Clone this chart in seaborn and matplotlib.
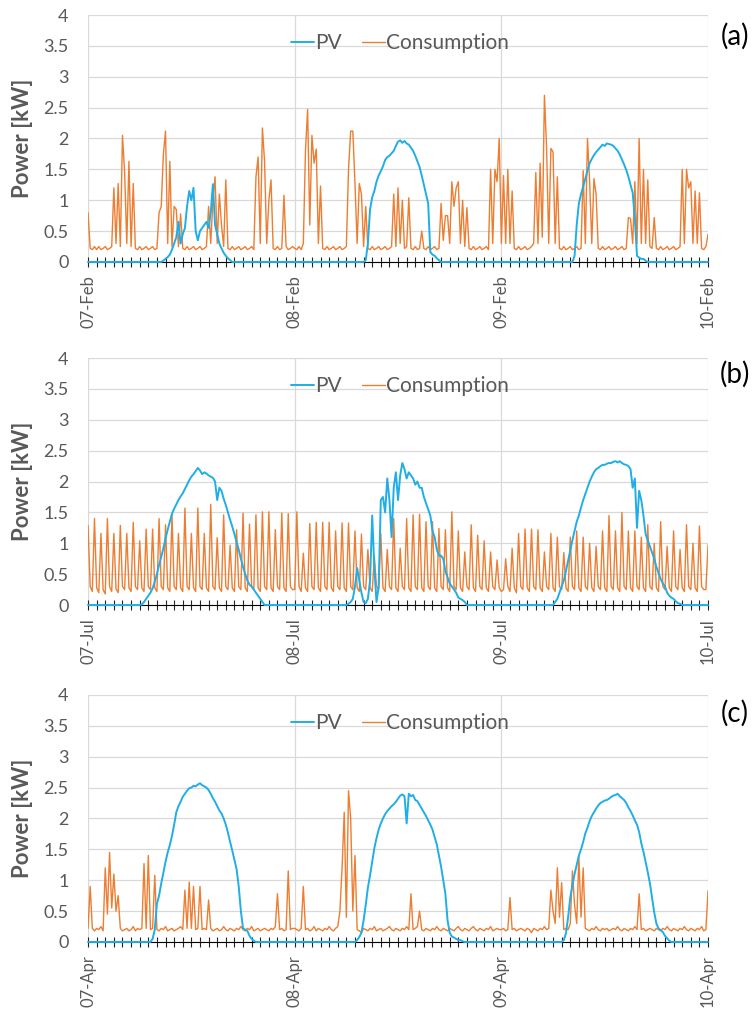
import numpy as np
import pandas as pd
import seaborn as sns
import matplotlib.pyplot as plt
from matplotlib.ticker import MultipleLocator

# 15-minute samples, 96 per day; the last day has one extra sample (midnight of day 4)

# ---------- (a) February ----------
pv_a_d1 = [0, 0, 0, 0, 0, 0, 0, 0, 0, 0, 0, 0, 0, 0, 0, 0, 0, 0, 0, 0, 0, 0, 0, 0,
           0, 0, 0, 0, 0, 0, 0, 0, 0, 0, 0, 0.02, 0.05, 0.08, 0.12, 0.2, 0.3, 0.4, 0.65, 0.3, 0.45, 0.55, 0.9, 1.15,
           1.0, 1.2, 0.5, 0.35, 0.5, 0.55, 0.6, 0.65, 0.55, 0.8, 1.26, 0.6, 0.45, 0.3, 0.22, 0.15, 0.1, 0.06, 0.03, 0, 0, 0, 0, 0,
           0, 0, 0, 0, 0, 0, 0, 0, 0, 0, 0, 0, 0, 0, 0, 0, 0, 0, 0, 0, 0, 0, 0, 0]
pv_a_d2 = [0, 0, 0, 0, 0, 0, 0, 0, 0, 0, 0, 0, 0, 0, 0, 0, 0, 0, 0, 0, 0, 0, 0, 0,
           0, 0, 0, 0, 0, 0, 0, 0, 0, 0.03, 0.3, 0.85, 1.05, 1.15, 1.3, 1.4, 1.47, 1.55, 1.65, 1.7, 1.72, 1.76, 1.8, 1.88,
           1.95, 1.97, 1.93, 1.96, 1.92, 1.9, 1.85, 1.8, 1.72, 1.63, 1.54, 1.4, 1.25, 1.1, 0.95, 0.16, 0.12, 0.1, 0.06, 0.03, 0, 0, 0, 0,
           0, 0, 0, 0, 0, 0, 0, 0, 0, 0, 0, 0, 0, 0, 0, 0, 0, 0, 0, 0, 0, 0, 0, 0]
pv_a_d3 = [0, 0, 0, 0, 0, 0, 0, 0, 0, 0, 0, 0, 0, 0, 0, 0, 0, 0, 0, 0, 0, 0, 0, 0,
           0, 0, 0, 0, 0, 0, 0, 0, 0, 0, 0.1, 0.6, 0.95, 1.1, 1.22, 1.35, 1.48, 1.6, 1.67, 1.73, 1.78, 1.82, 1.86, 1.9,
           1.88, 1.92, 1.91, 1.9, 1.88, 1.84, 1.8, 1.74, 1.66, 1.58, 1.49, 1.38, 1.25, 1.12, 0.7, 0.1, 0.07, 0.05, 0.05, 0.02, 0, 0, 0, 0,
           0, 0, 0, 0, 0, 0, 0, 0, 0, 0, 0, 0, 0, 0, 0, 0, 0, 0, 0, 0, 0, 0, 0, 0, 0]
cons_a_d1 = [0.8, 0.22, 0.2, 0.25, 0.2, 0.25, 0.2, 0.22, 0.25, 0.2, 0.22, 0.25, 1.2, 0.3, 1.27, 0.25, 2.05, 1.45, 0.3, 1.63, 0.25, 1.27, 0.22, 0.2,
             0.25, 0.2, 0.22, 0.25, 0.2, 0.22, 0.25, 0.2, 0.22, 0.8, 0.9, 1.75, 2.12, 0.3, 1.63, 0.25, 0.9, 0.85, 0.25, 0.78, 0.22, 0.2, 0.25, 0.2,
             0.22, 0.25, 0.2, 0.22, 0.25, 0.2, 0.22, 0.25, 0.9, 0.3, 1.0, 1.38, 0.3, 1.1, 0.6, 0.25, 1.33, 0.22, 0.2, 0.25, 0.2, 0.22, 0.25, 0.2,
             0.22, 0.25, 0.2, 0.22, 0.25, 0.2, 1.38, 1.7, 0.3, 2.17, 1.63, 0.3, 1.0, 1.33, 0.22, 0.2, 0.25, 0.2, 0.22, 1.08, 0.25, 0.2, 0.22, 0.25]
cons_a_d2 = [0.22, 0.2, 0.25, 0.2, 0.3, 1.8, 2.47, 0.6, 2.05, 1.6, 1.83, 0.3, 1.23, 0.22, 0.2, 0.25, 0.2, 0.22, 0.25, 0.2, 0.22, 0.25, 0.2, 0.22,
             0.25, 1.5, 2.12, 2.12, 1.27, 0.3, 1.27, 1.1, 0.25, 0.9, 0.22, 0.2, 0.25, 0.2, 0.22, 0.25, 0.2, 0.22, 0.25, 0.2, 0.22, 0.25, 1.1, 0.25,
             1.2, 0.3, 1.0, 0.22, 0.25, 1.04, 0.22, 0.2, 0.25, 0.2, 0.22, 0.5, 0.22, 0.2, 0.25, 0.2, 0.22, 0.25, 0.2, 0.22, 0.95, 0.35, 0.75, 0.75,
             0.3, 1.3, 0.9, 1.2, 1.3, 0.3, 1.0, 0.25, 0.88, 0.22, 0.2, 0.25, 0.2, 0.22, 0.25, 0.2, 0.22, 0.25, 0.2, 1.5, 0.3, 1.5, 1.3, 2.0]
cons_a_d3 = [0.3, 1.4, 0.3, 1.5, 0.3, 1.15, 0.22, 0.2, 0.25, 0.2, 0.22, 0.25, 0.2, 0.22, 0.25, 0.3, 1.45, 0.3, 1.6, 0.4, 2.7, 1.86, 0.3, 1.84,
             1.78, 0.3, 1.38, 0.22, 0.2, 0.25, 0.2, 0.22, 0.25, 0.2, 0.22, 0.25, 0.2, 0.22, 1.48, 0.3, 2.0, 1.3, 0.3, 1.35, 1.1, 0.22, 0.2, 0.25,
             0.2, 0.22, 0.25, 0.2, 0.22, 0.25, 0.2, 0.22, 0.25, 0.2, 0.22, 0.72, 0.7, 0.3, 1.3, 0.3, 2.0, 0.3, 1.5, 0.3, 1.33, 0.25, 0.22, 0.72,
             0.22, 0.2, 0.25, 0.2, 0.22, 0.25, 0.2, 0.22, 0.25, 0.2, 0.22, 0.25, 1.5, 0.3, 1.5, 1.2, 1.3, 0.3, 1.15, 0.3, 1.12, 0.22, 0.2, 0.25, 0.45]

# ---------- (b) July ----------
pv_b_d1 = [0, 0, 0, 0, 0, 0, 0, 0, 0, 0, 0, 0, 0, 0, 0, 0, 0, 0, 0, 0, 0, 0, 0, 0,
           0, 0.01, 0.05, 0.1, 0.15, 0.2, 0.27, 0.38, 0.5, 0.65, 0.78, 0.92, 1.08, 1.22, 1.35, 1.48, 1.56, 1.63, 1.7, 1.76, 1.81, 1.88, 1.95, 2.02,
           2.08, 2.12, 2.17, 2.22, 2.18, 2.12, 2.15, 2.13, 2.1, 2.08, 2.06, 2.0, 1.7, 1.9, 1.85, 1.72, 1.62, 1.5, 1.38, 1.27, 1.15, 1.02, 0.9, 0.75,
           0.62, 0.5, 0.4, 0.33, 0.3, 0.25, 0.2, 0.15, 0.1, 0.05, 0, 0, 0, 0, 0, 0, 0, 0, 0, 0, 0, 0, 0, 0]
pv_b_d2 = [0, 0, 0, 0, 0, 0, 0, 0, 0, 0, 0, 0, 0, 0, 0, 0, 0, 0, 0, 0, 0, 0, 0, 0,
           0, 0.02, 0.05, 0.1, 0.3, 0.6, 0.4, 0.2, 0.05, 0.03, 0.1, 0.4, 1.45, 0.6, 0.05, 0.3, 1.7, 1.75, 1.5, 2.05, 1.7, 1.1, 1.9, 2.15,
           1.7, 2.1, 2.3, 2.2, 2.05, 2.15, 2.1, 2.05, 1.95, 2.0, 1.9, 1.9, 1.75, 1.65, 1.55, 1.45, 1.2, 1.1, 0.9, 0.8, 0.8, 0.75, 0.55, 0.45,
           0.35, 0.3, 0.25, 0.2, 0.12, 0.1, 0.08, 0.05, 0, 0, 0, 0, 0, 0, 0, 0, 0, 0, 0, 0, 0, 0, 0, 0]
pv_b_d3 = [0, 0, 0, 0, 0, 0, 0, 0, 0, 0, 0, 0, 0, 0, 0, 0, 0, 0, 0, 0, 0, 0, 0, 0,
           0, 0.05, 0.1, 0.2, 0.3, 0.4, 0.55, 0.72, 0.88, 1.05, 1.2, 1.35, 1.45, 1.58, 1.7, 1.8, 1.9, 2.0, 2.08, 2.15, 2.2, 2.22, 2.25, 2.27,
           2.27, 2.29, 2.3, 2.3, 2.32, 2.33, 2.31, 2.33, 2.3, 2.28, 2.27, 2.25, 2.2, 1.9, 2.05, 1.25, 1.85, 1.7, 1.45, 1.15, 1.05, 0.95, 0.85, 0.75,
           0.62, 0.52, 0.42, 0.35, 0.3, 0.2, 0.15, 0.12, 0.1, 0.06, 0.03, 0.02, 0, 0, 0, 0, 0, 0, 0, 0, 0, 0, 0, 0, 0]
cons_b_d1 = [1.29, 0.3, 0.22, 1.4, 0.28, 0.2, 1.16, 0.25, 0.18, 1.4, 0.3, 0.22, 1.16, 0.26, 0.2, 1.29, 0.3, 0.25, 1.16, 0.28, 0.22, 1.34, 0.3, 0.25,
             1.04, 0.28, 0.22, 1.23, 0.3, 0.25, 1.23, 0.28, 0.22, 1.4, 0.3, 0.25, 1.3, 0.28, 0.22, 1.46, 0.3, 0.25, 1.16, 0.28, 0.22, 1.57, 0.3, 0.25,
             1.16, 0.28, 0.22, 1.57, 0.3, 0.25, 1.16, 0.28, 0.22, 1.63, 0.3, 0.25, 1.09, 0.28, 0.22, 1.46, 0.3, 0.25, 0.97, 0.28, 0.22, 1.22, 0.3, 0.25,
             1.49, 0.28, 0.22, 1.31, 0.3, 0.25, 1.46, 0.28, 0.22, 1.51, 0.3, 0.25, 1.51, 0.28, 0.22, 1.22, 0.3, 0.25, 1.49, 0.28, 0.22, 1.48, 0.3, 0.25]
cons_b_d2 = [0.25,
             1.51, 0.3, 0.22, 0.84, 0.28, 0.22, 1.32, 0.3, 0.25, 1.34, 0.28, 0.22, 1.34, 0.3, 0.25, 1.34, 0.28, 0.22, 1.2, 0.3, 0.25, 1.33, 0.28, 0.22,
             1.33, 0.3, 0.25, 1.2, 0.28, 0.22, 1.15, 0.3, 0.25, 0.9, 0.28, 0.22, 0.78, 0.3, 0.25, 1.16, 0.28, 0.22, 0.9, 0.3, 0.25, 1.4, 0.28, 0.22,
             0.92, 0.3, 0.25, 1.4, 0.28, 0.22, 1.46, 0.3, 0.25, 1.47, 0.28, 0.22, 1.35, 0.3, 0.25, 1.35, 0.28, 0.22, 1.24, 0.3, 0.25, 1.22, 0.28, 0.22,
             1.51, 0.3, 0.25, 1.2, 0.28, 0.22, 0.86, 0.3, 0.25, 1.3, 0.28, 0.22, 1.13, 0.3, 0.25, 1.04, 0.28, 0.22, 0.86, 0.3, 0.25,
             0.73, 0.28]
cons_b_d3 = [0.22, 0.25,
             0.75, 0.3, 0.22, 0.92, 0.28, 0.2, 1.16, 0.3, 0.25, 1.23, 0.28, 0.22, 1.23, 0.3, 0.25, 1.22, 0.28, 0.22, 0.86, 0.3, 0.25, 1.16, 0.28, 0.22,
             1.1, 0.3, 0.25, 0.85, 0.28, 0.22, 1.1, 0.3, 0.25, 1.2, 0.28, 0.22, 1.1, 0.3, 0.25, 1.0, 0.28, 0.22, 0.95, 0.3, 0.25, 1.2, 0.28, 0.22,
             1.45, 0.3, 0.25, 1.2, 0.28, 0.22, 1.5, 0.3, 0.25, 1.2, 0.28, 0.22, 1.2, 0.3, 0.25, 1.1, 0.28, 0.22, 1.3, 0.3, 0.25, 1.0, 0.28, 0.22,
             1.35, 0.3, 0.25, 0.95, 0.28, 0.22, 1.2, 0.3, 0.25, 0.9, 0.28, 0.22, 1.3, 0.3, 0.25, 1.0, 0.28, 0.22, 1.28, 0.3, 0.25,
             0.25, 0.97]

# ---------- (c) April ----------
pv_c_d1 = [0, 0, 0, 0, 0, 0, 0, 0, 0, 0, 0, 0, 0, 0, 0, 0, 0, 0, 0, 0, 0, 0, 0, 0,
           0, 0, 0, 0, 0, 0, 0.05, 0.2, 0.62, 0.75, 0.95, 1.12, 1.3, 1.45, 1.57, 1.72, 1.9, 2.1, 2.2, 2.27, 2.35, 2.4, 2.45, 2.49,
           2.5, 2.53, 2.52, 2.55, 2.57, 2.54, 2.52, 2.5, 2.46, 2.4, 2.33, 2.27, 2.2, 2.13, 2.08, 2.0, 1.9, 1.77, 1.62, 1.48, 1.33, 1.18, 0.9, 0.5,
           0.22, 0.2, 0.18, 0.1, 0.05, 0.02, 0, 0, 0, 0, 0, 0, 0, 0, 0, 0, 0, 0, 0, 0, 0, 0, 0, 0]
pv_c_d2 = [0, 0, 0, 0, 0, 0, 0, 0, 0, 0, 0, 0, 0, 0, 0, 0, 0, 0, 0, 0, 0, 0, 0, 0,
           0, 0, 0, 0, 0, 0.03, 0.08, 0.15, 0.35, 0.6, 0.88, 1.08, 1.3, 1.52, 1.68, 1.82, 1.92, 2.0, 2.07, 2.12, 2.16, 2.2, 2.23, 2.27,
           2.32, 2.37, 2.39, 2.36, 1.92, 2.4, 2.36, 2.38, 2.3, 2.28, 2.22, 2.16, 2.1, 2.04, 1.97, 1.9, 1.82, 1.7, 1.58, 1.4, 1.22, 1.0, 0.78, 0.35,
           0.15, 0.09, 0.07, 0.05, 0.03, 0.03, 0.01, 0, 0, 0, 0, 0, 0, 0, 0, 0, 0, 0, 0, 0, 0, 0, 0, 0]
pv_c_d3 = [0, 0, 0, 0, 0, 0, 0, 0, 0, 0, 0, 0, 0, 0, 0, 0, 0, 0, 0, 0, 0, 0, 0, 0,
           0, 0, 0, 0, 0, 0.03, 0.14, 0.4, 0.72, 0.92, 1.1, 1.25, 1.4, 1.5, 1.62, 1.76, 1.85, 1.96, 2.04, 2.1, 2.16, 2.21, 2.25, 2.27,
           2.29, 2.3, 2.32, 2.35, 2.37, 2.38, 2.4, 2.36, 2.33, 2.3, 2.25, 2.18, 2.12, 2.05, 1.97, 1.9, 1.78, 1.6, 1.46, 1.3, 1.13, 0.95, 0.72, 0.48,
           0.3, 0.22, 0.19, 0.16, 0.1, 0.06, 0.02, 0, 0, 0, 0, 0, 0, 0, 0, 0, 0, 0, 0, 0, 0, 0, 0, 0, 0]
cons_c_d1 = [0.22, 0.9, 0.22, 0.18, 0.22, 0.2, 0.25, 0.18, 1.2, 0.45, 1.45, 0.55, 1.1, 0.5, 0.75, 0.22, 0.18, 0.2, 0.22, 0.18, 0.2, 0.25, 0.18, 0.22,
             0.2, 0.22, 1.27, 0.22, 1.4, 0.2, 0.22, 1.08, 0.2, 0.18, 0.22, 0.2, 0.25, 0.18, 0.2, 0.22, 0.18, 0.2, 0.22, 0.25, 0.2, 0.84, 0.22, 0.97,
             0.22, 0.9, 0.2, 0.22, 0.9, 0.2, 0.22, 0.2, 0.68, 0.22, 0.18, 0.2, 0.22, 0.18, 0.2, 0.25, 0.2, 0.18, 0.22, 0.2, 0.18, 0.22, 0.2, 0.25,
             0.2, 0.18, 0.22, 0.2, 0.25, 0.18, 0.2, 0.22, 0.18, 0.2, 0.22, 0.2, 0.18, 0.22, 0.2, 0.25, 0.78, 0.2, 0.22, 0.18, 0.2, 1.15, 0.2, 0.22]
cons_c_d2 = [0.22, 0.2, 0.18, 0.22, 0.9, 0.2, 0.22, 0.18, 0.2, 0.25, 0.18, 0.22, 0.2, 0.18, 0.22, 0.2, 0.25, 0.2, 0.18, 0.22, 0.25, 0.5, 1.2, 2.1,
             0.4, 2.45, 2.0, 0.5, 1.4, 0.2, 0.18, 0.15, 0.22, 0.2, 0.18, 0.22, 0.2, 0.25, 0.18, 0.2, 0.22, 0.18, 0.2, 0.22, 0.25, 0.2, 0.18, 0.22,
             0.2, 0.18, 0.22, 0.2, 0.25, 0.2, 0.78, 0.2, 0.22, 0.25, 0.5, 0.2, 0.18, 0.22, 0.2, 0.18, 0.22, 0.2, 0.25, 0.2, 0.18, 0.22, 0.2, 0.18,
             0.22, 0.2, 0.18, 0.22, 0.25, 0.2, 0.18, 0.22, 0.2, 0.18, 0.22, 0.25, 0.2, 0.18, 0.22, 0.2, 0.18, 0.22, 0.2, 0.25, 0.18, 0.2, 0.22, 0.2]
cons_c_d3 = [0.2, 0.22, 0.18, 0.2, 0.72, 0.2, 0.22, 0.18, 0.2, 0.22, 0.2, 0.18, 0.22, 0.2, 0.15, 0.22, 0.2, 0.18, 0.22, 0.2, 0.25, 0.2, 0.22, 0.84,
             0.5, 0.3, 1.2, 0.4, 0.96, 0.2, 0.22, 0.2, 0.3, 1.15, 0.6, 0.3, 1.38, 0.4, 1.2, 0.22, 0.2, 0.18, 0.22, 0.2, 0.25, 0.2, 0.18, 0.22,
             0.2, 0.22, 0.18, 0.2, 0.22, 0.2, 0.25, 0.2, 0.18, 0.22, 0.2, 0.18, 0.22, 0.2, 0.25, 0.2, 0.78, 0.2, 0.22, 0.18, 0.2, 0.22, 0.2, 0.18,
             0.22, 0.2, 0.18, 0.22, 0.2, 0.25, 0.2, 0.18, 0.22, 0.2, 0.18, 0.22, 0.2, 0.25, 0.2, 0.18, 0.22, 0.2, 0.18, 0.22, 0.2, 0.25, 0.18, 0.2, 0.83]

days_a = ["07-Feb", "08-Feb", "09-Feb", "10-Feb"]
days_b = ["07-Jul", "08-Jul", "09-Jul", "10-Jul"]
days_c = ["07-Apr", "08-Apr", "09-Apr", "10-Apr"]
ytick_labels = ["0", "0.5", "1", "1.5", "2", "2.5", "3", "3.5", "4"]

BLUE = "#1FAEE6"
ORANGE = "#ED7D31"
GREY = "#595959"

panels = [
    ("(a)", days_a, pv_a_d1 + pv_a_d2 + pv_a_d3, cons_a_d1 + cons_a_d2 + cons_a_d3, 0.7434, 36),
    ("(b)", days_b, pv_b_d1 + pv_b_d2 + pv_b_d3, cons_b_d1 + cons_b_d2 + cons_b_d3, 0.4074, 374),
    ("(c)", days_c, pv_c_d1 + pv_c_d2 + pv_c_d3, cons_c_d1 + cons_c_d2 + cons_c_d3, 0.0774, 713),
]

sns.set_style("white")
plt.rcParams["font.family"] = ["Lato", "DejaVu Sans"]

fig = plt.figure(figsize=(7.55, 10.21), dpi=100)

for tag, days, pv, cons, bottom, tag_y in panels:
    assert len(pv) == 289, (tag, "pv", len(pv))
    assert len(cons) == 289, (tag, "cons", len(cons))
    ax = fig.add_axes([0.1166, bottom, 0.8212, 0.2419])
    df = pd.DataFrame({"hour": np.arange(289) * 0.25, "PV": pv, "Consumption": cons})

    sns.lineplot(data=df, x="hour", y="Consumption", color=ORANGE, lw=1.0, ax=ax)
    sns.lineplot(data=df, x="hour", y="PV", color=BLUE, lw=1.4, ax=ax, zorder=3, clip_on=False)
    cons_line, pv_line = ax.lines[0], ax.lines[1]

    ax.set_xlim(0, 72)
    ax.set_ylim(0, 4)
    ax.set_xticks([0, 24, 48, 72])
    ax.set_xticklabels(days, rotation=90, ha="center", va="top")
    ax.xaxis.set_minor_locator(MultipleLocator(1))
    ax.set_yticks(np.arange(0, 4.01, 0.5))
    ax.set_yticklabels(ytick_labels)

    ax.grid(True, which="major", color="#D9D9D9", lw=0.9)
    ax.set_axisbelow(True)
    for s in ["top", "right", "left"]:
        ax.spines[s].set_visible(False)
    ax.spines["bottom"].set_color("black")
    ax.spines["bottom"].set_linewidth(0.8)

    ax.tick_params(axis="x", which="both", bottom=True, direction="inout", length=7, width=0.8,
                   color="#222222", pad=6, labelsize=12, labelcolor=GREY)
    ax.tick_params(axis="y", left=False, length=0, pad=14, labelsize=13, labelcolor=GREY)

    ax.set_xlabel("")
    ax.set_ylabel("Power [kW]", fontsize=16, fontweight="bold", color=GREY)
    ax.yaxis.set_label_coords(-0.088, 0.5)

    ax.legend([pv_line, cons_line], ["PV", "Consumption"], loc="center",
              bbox_to_anchor=(0.503, 0.887), ncol=2, frameon=False, fontsize=15,
              handlelength=1.1, handletextpad=0.05, columnspacing=1.0, labelcolor=GREY)

    fig.text(735 / 755, 1 - tag_y / 1021, tag, ha="center", va="center", fontsize=20, color="black")

fig.savefig("out.png", dpi=100)
